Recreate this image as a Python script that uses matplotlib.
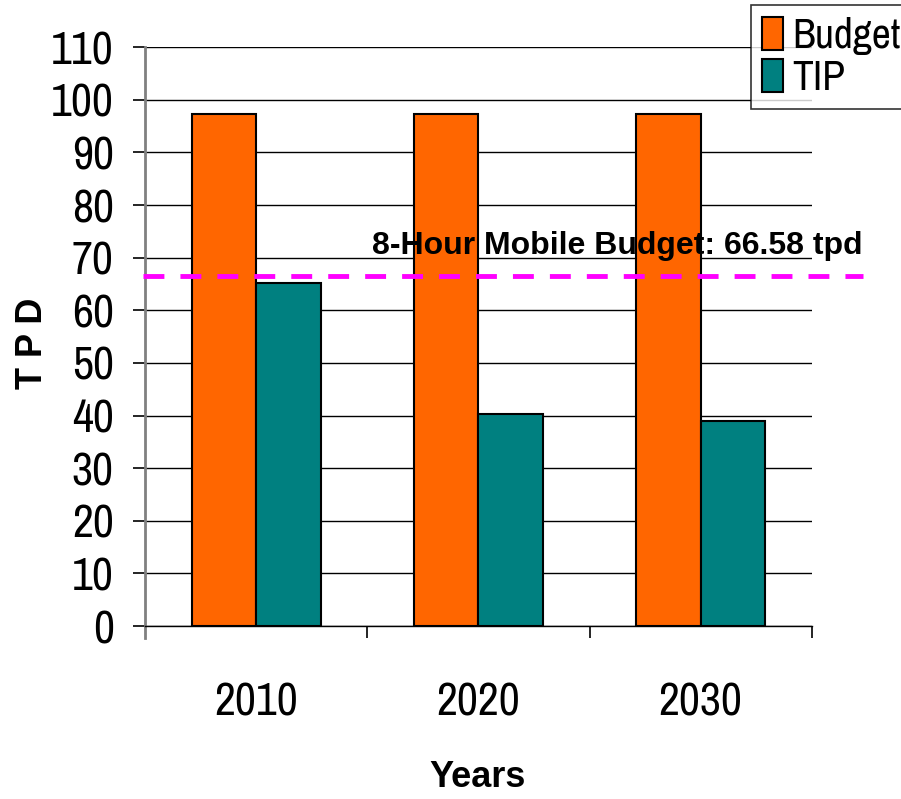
import matplotlib.pyplot as plt
import numpy as np
from matplotlib import font_manager

# Data
years = ["2010", "2020", "2030"]
budget = [97.3, 97.3, 97.3]
tip = [65.1, 40.3, 39.0]
mobile_budget = 66.58

# look for a narrow font, the original uses a condensed face
narrow, nsize = "Liberation Sans", 28
for f in font_manager.fontManager.ttflist:
    if "Narrow" in f.name:
        narrow, nsize = f.name, 33
        break
print(narrow)

fig = plt.figure(figsize=(9.01, 7.99), dpi=100)
ax = fig.add_axes([0.161, 0.2165, 0.74, 0.7245])

x = np.arange(len(years))
w = 0.29
ax.bar(x - w / 2, budget, w, color="#FF6600", edgecolor="black", linewidth=1.5, label="Budget", zorder=3)
ax.bar(x + w / 2, tip, w, color="#008080", edgecolor="black", linewidth=1.5, label="TIP", zorder=3)

ax.set_xlim(-0.5, 2.5)
ax.set_ylim(0, 110)
ax.set_yticks(range(0, 111, 10))
ax.yaxis.grid(True, color="black", linewidth=1)
ax.set_axisbelow(True)

# dashed budget line, runs past the plot edge
ax.plot([-0.51, 2.73], [mobile_budget, mobile_budget], color="#FF00FF", linestyle=(0, (4.3, 3.3)),
        linewidth=3.5, clip_on=False, zorder=4)
ax.text(0.52, 70.7, "8-Hour Mobile Budget: 66.58 tpd", fontsize=23, fontweight="bold",
        family="Liberation Sans", va="baseline", ha="left", zorder=5)

for s in ["top", "right"]:
    ax.spines[s].set_visible(False)
ax.spines["left"].set_color("gray")
ax.spines["left"].set_linewidth(2)
ax.spines["left"].set_bounds(-2.2, 110)
ax.spines["bottom"].set_linewidth(1)

ax.set_xticks([0, 1, 2])
ax.set_xticklabels(years, family=narrow, fontsize=nsize)
ax.set_xticks([0.5, 1.5, 2.5], minor=True)
ax.tick_params(axis="x", which="major", length=0, pad=40)
ax.tick_params(axis="x", which="minor", length=8.6, width=1.2, color="black")
ax.tick_params(axis="y", length=8.6, width=1.2, pad=14)
for lab in ax.get_yticklabels():
    lab.set_family(narrow)
    lab.set_fontsize(nsize)

ax.set_ylabel("T P D", fontsize=26, fontweight="bold", family="Liberation Sans", va="center")
ax.yaxis.set_label_coords(-0.169, 0.489)
ax.set_xlabel("Years", fontsize=26, fontweight="bold", family="Liberation Sans", va="center")
ax.xaxis.set_label_coords(0.499, -0.262)

leg = ax.legend(loc="upper left", bbox_to_anchor=(0.9085, 1.0725), prop={"family": narrow, "size": nsize - 3},
                frameon=True, fancybox=False, edgecolor="black", handlelength=0.5, handleheight=0.85,
                handletextpad=0.22, borderpad=0.28, labelspacing=0.1, borderaxespad=0)
leg.get_frame().set_linewidth(1.2)

fig.savefig("out.png", dpi=100)
